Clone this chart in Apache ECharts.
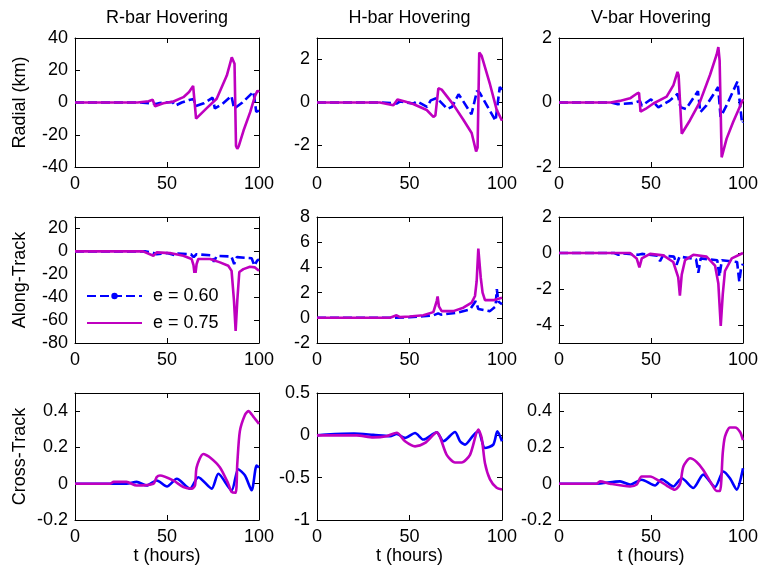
<!DOCTYPE html>
<html>
<head>
<meta charset="utf-8">
<script src="https://cdn.jsdelivr.net/npm/echarts@6/dist/echarts.min.js"></script>
<style>html,body{margin:0;padding:0;background:#fff;}#c{width:762px;height:572px;}</style>
</head>
<body>
<div id="c"></div>
<script>
// ---------- DATA ----------
const colTitles = ['R-bar Hovering', 'H-bar Hovering', 'V-bar Hovering'];
const rowNames = ['Radial (km)', 'Along-Track', 'Cross-Track'];
const xName = 't (hours)';
const seriesNames = ['e = 0.60', 'e = 0.75'];
const xTicks = [0, 50, 100];

// y ranges and tick labels per panel (row-major)
const yMins = [-40, -3, -2, -80, -2, -5, -0.2, -1, -0.2];
const yMaxs = [40, 3, 2, 30, 8, 2, 0.5, 0.5, 0.5];
const ticksRbarRad = [-40, -20, 0, 20, 40];
const ticksHbarRad = [-2, 0, 2];
const ticksVbarRad = [-2, 0, 2];
const ticksRbarAlong = [-80, -60, -40, -20, 0, 20];
const ticksHbarAlong = [-2, 0, 2, 4, 6, 8];
const ticksVbarAlong = [-4, -2, 0, 2];
const ticksRbarCross = [-0.2, 0, 0.2, 0.4];
const ticksHbarCross = [-1, -0.5, 0, 0.5];
const ticksVbarCross = [-0.2, 0, 0.2, 0.4];

// R-bar radial
const tRbarRad60 = [0, 35, 42, 44, 46, 53, 54.5, 58, 62, 64.5, 65.5, 70, 74.8, 76, 80, 85, 86.5, 91, 97, 98.5, 100];
const vRbarRad60 = [0, 0, -0.5, -1, -0.3, 0.3, -2, 0, 1.5, 2.2, -2.3, -0.5, 3, -3.7, -1, 4, -3.8, 0, 6.7, -5.8, -5];
const tRbarRad75 = [0, 34, 40, 42.2, 43.5, 48, 53.5, 58.9, 62, 64.2, 65.8, 71.6, 77, 82.5, 85.2, 86.7, 87.5, 88.2, 89, 91.6, 95.2, 97.9, 99.2, 100];
const vRbarRad75 = [0, 0, 0.8, 1.7, -2.3, -0.5, 0.6, 3.3, 6.5, 10.3, -10, -3.5, 2.3, 16.7, 28, 24, -27, -28.7, -27, -17.4, -6, 4.3, 7.4, 6.4];
// H-bar radial
const tHbarRad60 = [0, 35, 43, 45, 52, 54, 59.5, 61.5, 64.5, 66, 70.5, 73, 76.5, 78, 83.5, 86.5, 88, 96.5, 98.8, 100];
const vHbarRad60 = [0, 0, -0.05, 0.05, -0.05, 0.05, -0.2, 0.1, 0.2, 0.1, -0.3, -0.2, 0.38, 0.2, -0.55, 0.55, 0.45, -0.85, 0.72, 0.6];
const tHbarRad75 = [0, 34, 41.3, 43.5, 48, 52, 59.3, 62.9, 64, 65.6, 67.4, 73.7, 79.1, 83.6, 86, 86.8, 87.7, 89, 93.5, 97.1, 100];
const vHbarRad75 = [0, 0, -0.13, 0.14, 0.03, -0.07, -0.35, -0.67, -0.6, 0.66, 0.6, -0.1, -0.8, -1.42, -2.28, -2.1, 2.33, 2.17, 0.85, -0.33, -0.85];
// V-bar radial
const tVbarRad60 = [0, 28, 32, 40, 44, 45, 50, 54, 60, 64.5, 66, 69, 75.5, 76.8, 80, 86.5, 87.8, 91, 97, 99.5, 100];
const vVbarRad60 = [0, 0, -0.05, -0.02, 0.05, -0.1, 0.1, -0.15, 0.05, 0.27, -0.15, -0.2, 0.35, -0.3, -0.1, 0.48, -0.45, -0.1, 0.65, -0.65, -0.6];
const tVbarRad75 = [0, 28, 33, 38.6, 42.2, 43.5, 44.3, 47, 51.3, 58.5, 62.2, 64.4, 65, 66.7, 71.2, 76.6, 82.1, 85.7, 86.6, 87.3, 88.4, 91.1, 94.7, 97.5, 100];
const vVbarRad75 = [0, 0, 0.05, 0.13, 0.27, 0.3, -0.28, -0.2, -0.03, 0.18, 0.54, 0.95, 0.85, -0.97, -0.55, 0.02, 0.86, 1.49, 1.72, 1.3, -1.7, -1.12, -0.6, -0.23, 0.1];
// R-bar along-track
const tRbarAlong60 = [0, 38, 42, 44.4, 50, 54.5, 56, 63, 64.5, 66, 74, 75.5, 77, 85, 86.5, 88, 96, 97.5, 99, 100];
const vRbarAlong60 = [0, 0, -1, -2.5, -1.5, -3.5, -2, -2.5, -5, -2.5, -3.5, -9, -4, -4.5, -11, -5, -6, -12.5, -8, -7];
const tRbarAlong75 = [0, 37, 42.6, 44.4, 51.6, 58.9, 63.4, 64.4, 65.2, 66.1, 67, 73.4, 78.8, 83.3, 85.1, 86.4, 87.3, 88.2, 89.3, 91.5, 95.1, 97.8, 100];
const vRbarAlong75 = [0, 0, -3.8, -0.9, -1.5, -3.8, -6.7, -12, -23, -11, -6.7, -6.7, -9.6, -12.5, -17, -43, -69.4, -43, -18, -15.5, -13.4, -14, -17];
// H-bar along-track
const tHbarAlong60 = [0, 40, 50, 57.5, 63, 65.5, 67, 75.5, 82.7, 85.8, 87.2, 93.5, 96.5, 97.2, 98, 100];
const vHbarAlong60 = [0, 0, 0.05, 0.13, 0.2, 0.35, 0.25, 0.4, 0.67, 1.33, 0.7, 0.53, 0.9, 2.27, 1.3, 1.07];
const tHbarAlong75 = [0, 39.5, 43, 44.9, 50, 57.5, 62.9, 64.7, 65.2, 65.9, 67.4, 73.7, 79.1, 83.6, 85.4, 86.3, 87.2, 87.7, 88.5, 89.5, 90.8, 95.3, 100];
const vHbarAlong75 = [0, 0, 0.2, 0.05, 0.1, 0.2, 0.45, 1.33, 1.7, 0.9, 0.53, 0.53, 0.8, 1.2, 1.73, 2.9, 5.5, 5.6, 3.2, 2, 1.4, 1.4, 1.6];
// V-bar along-track
const tVbarAlong60 = [0, 30, 32.3, 35, 43, 44, 45, 53.5, 54.9, 56.5, 62.5, 63.9, 65.5, 74.5, 75.7, 77, 86, 87.2, 88.5, 96.8, 98, 99, 100];
const vVbarAlong60 = [0, 0, -0.1, -0.02, -0.1, -0.2, -0.05, -0.15, -0.45, -0.15, -0.2, -0.65, -0.2, -0.35, -1.1, -0.3, -0.4, -1.3, -0.4, -0.5, -1.6, -0.8, -0.6];
const tVbarAlong75 = [0, 38.6, 42.2, 43.7, 45, 49.5, 56.7, 62.1, 64.8, 65.7, 66.7, 68.5, 73, 80.2, 84.8, 86.6, 87.9, 89, 90.2, 93.9, 100];
const vVbarAlong75 = [0, 0, -0.3, -0.8, -0.3, -0.05, -0.13, -0.5, -1.35, -2.37, -1.2, -0.4, -0.1, -0.2, -0.7, -1.7, -4.05, -2.3, -1, -0.3, 0];
// R-bar cross-track
const tRbarCross60 = [0, 20, 28, 33.5, 39, 44.4, 50, 55.3, 62.5, 67, 74.3, 77.9, 85.1, 88.7, 92.4, 96, 98.7, 100];
const vRbarCross60 = [0, 0, 0, 0.01, -0.01, 0.018, -0.015, 0.027, -0.027, 0.036, -0.027, 0.055, -0.036, 0.08, 0.045, -0.036, 0.1, 0.09];
const tRbarCross75 = [0, 19, 21, 28, 33.5, 42.6, 44.4, 46.2, 53.4, 58.9, 63.4, 65.2, 66.1, 69.7, 73.4, 78.8, 83.3, 85.1, 87.3, 88.2, 89.6, 92.4, 94.2, 96.9, 100];
const vRbarCross75 = [0, 0, 0.01, 0.01, -0.01, 0, 0.036, 0.045, 0.018, -0.018, -0.027, -0.01, 0.09, 0.164, 0.145, 0.09, 0, -0.045, -0.05, 0.11, 0.29, 0.38, 0.4, 0.37, 0.33];
// H-bar cross-track
const tHbarCross60 = [0, 5, 20, 30.4, 39.5, 43.1, 47.6, 53, 57.5, 64.7, 68.3, 74.6, 77.3, 80, 84.5, 87.2, 90.8, 95.3, 97.5, 100];
const vHbarCross60 = [0, 0.01, 0.02, 0.005, -0.01, 0.015, -0.03, 0.027, -0.05, 0.035, -0.07, 0.04, -0.07, -0.11, 0.0, 0.05, -0.15, -0.11, 0.047, -0.07];
const tHbarCross75 = [0, 21.4, 30.4, 37.6, 43.1, 47.6, 53, 58.4, 64.7, 70.1, 74.6, 78.2, 82.7, 87.2, 89, 90.8, 93.5, 97.1, 100];
const vHbarCross75 = [0, 0, -0.024, -0.01, 0.03, -0.07, -0.13, -0.09, 0.035, -0.23, -0.32, -0.32, -0.23, 0.067, -0.03, -0.33, -0.52, -0.62, -0.64];
// V-bar cross-track
const tVbarCross60 = [0, 20, 33.2, 38.6, 44.9, 52.2, 55.8, 62.1, 66.7, 73, 78.4, 84.8, 89.3, 92.9, 96.6, 100];
const vVbarCross60 = [0, 0, 0.013, -0.005, 0.022, -0.01, 0.025, -0.015, 0.03, -0.024, 0.05, -0.018, 0.067, 0.03, -0.033, 0.085];
const tVbarCross75 = [0, 20.5, 22.3, 27.7, 38.6, 42.2, 44.9, 49.5, 54.9, 58.5, 63, 65.8, 67.6, 71.2, 74.8, 78.4, 82.9, 85.7, 87.5, 89, 90.2, 92.9, 95.7, 98.4, 100];
const vVbarCross75 = [0, 0, 0.013, 0, -0.015, -0.005, 0.04, 0.04, 0.013, -0.01, -0.033, 0, 0.095, 0.14, 0.12, 0.076, 0, -0.04, -0.04, 0.17, 0.26, 0.31, 0.31, 0.285, 0.24];

// ---------- LAYOUT / STYLE ----------
const FONT = '"Liberation Sans", Arial, Helvetica, sans-serif';
const FS = 18;
const BLUE = '#0000ff';
const MAG = '#bf00bf';
const cols = [{ left: 75, width: 184 }, { left: 317, width: 185 }, { left: 559, width: 184 }];
const rows = [{ top: 38, height: 129 }, { top: 217, height: 126 }, { top: 393, height: 127 }];

const panelTicks = [ticksRbarRad, ticksHbarRad, ticksVbarRad, ticksRbarAlong, ticksHbarAlong, ticksVbarAlong, ticksRbarCross, ticksHbarCross, ticksVbarCross];
const panelData = [
  [[tRbarRad60, vRbarRad60], [tRbarRad75, vRbarRad75]],
  [[tHbarRad60, vHbarRad60], [tHbarRad75, vHbarRad75]],
  [[tVbarRad60, vVbarRad60], [tVbarRad75, vVbarRad75]],
  [[tRbarAlong60, vRbarAlong60], [tRbarAlong75, vRbarAlong75]],
  [[tHbarAlong60, vHbarAlong60], [tHbarAlong75, vHbarAlong75]],
  [[tVbarAlong60, vVbarAlong60], [tVbarAlong75, vVbarAlong75]],
  [[tRbarCross60, vRbarCross60], [tRbarCross75, vRbarCross75]],
  [[tHbarCross60, vHbarCross60], [tHbarCross75, vHbarCross75]],
  [[tVbarCross60, vVbarCross60], [tVbarCross75, vVbarCross75]]
];

const zip = (a, b) => a.map((t, i) => [t, b[i]]);
const axisLine = { show: true, onZero: false, lineStyle: { color: '#000', width: 1 } };
const tickStyle = { show: true, inside: true, length: 5, lineStyle: { color: '#000', width: 1 } };
const labelStyle = { color: '#000', fontFamily: FONT, fontSize: FS };

const grid = [], xAxis = [], yAxis = [], series = [], graphic = [];
for (let r = 0; r < 3; r++) {
  for (let c = 0; c < 3; c++) {
    const i = r * 3 + c;
    grid.push({ left: cols[c].left, width: cols[c].width, top: rows[r].top, height: rows[r].height, containLabel: false });
    const xb = xAxis.length;
    xAxis.push({ type: 'value', gridIndex: i, position: 'bottom', min: 0, max: 100, interval: 50,
      axisLine, axisTick: tickStyle, splitLine: { show: false },
      axisLabel: Object.assign({ margin: 8, customValues: xTicks }, labelStyle) });
    xAxis.push({ type: 'value', gridIndex: i, position: 'top', min: 0, max: 100, interval: 50,
      axisLine, axisTick: tickStyle, splitLine: { show: false }, axisLabel: { show: false } });
    const yb = yAxis.length;
    yAxis.push({ type: 'value', gridIndex: i, position: 'left', min: yMins[i], max: yMaxs[i],
      axisLine, axisTick: Object.assign({ customValues: panelTicks[i] }, tickStyle), splitLine: { show: false },
      axisLabel: Object.assign({ margin: 7, customValues: panelTicks[i] }, labelStyle) });
    yAxis.push({ type: 'value', gridIndex: i, position: 'right', min: yMins[i], max: yMaxs[i],
      axisLine, axisTick: Object.assign({ customValues: panelTicks[i] }, tickStyle), splitLine: { show: false },
      axisLabel: { show: false } });
    const [d60, d75] = panelData[i];
    series.push({ type: 'line', name: seriesNames[0], xAxisIndex: xb, yAxisIndex: yb,
      data: zip(d60[0], d60[1]), symbol: 'circle', showSymbol: false, animation: false,
      smooth: r === 2 ? 0.25 : false,
      itemStyle: { color: BLUE },
      lineStyle: { color: BLUE, width: 2.6, type: r === 2 ? 'solid' : [9, 4] } });
    series.push({ type: 'line', name: seriesNames[1], xAxisIndex: xb, yAxisIndex: yb,
      data: zip(d75[0], d75[1]), symbol: 'none', showSymbol: false, animation: false,
      smooth: r === 2 ? 0.25 : false,
      itemStyle: { color: MAG },
      lineStyle: { color: MAG, width: 2.6, type: 'solid' } });
  }
}
// column titles, x names, row names
for (let c = 0; c < 3; c++) {
  const cx = cols[c].left + cols[c].width / 2;
  graphic.push({ type: 'text', x: cx, y: 18, style: { text: colTitles[c], font: FS + 'px ' + FONT, fill: '#000', textAlign: 'center', textVerticalAlign: 'middle' } });
  graphic.push({ type: 'text', x: cx, y: 556, style: { text: xName, font: FS + 'px ' + FONT, fill: '#000', textAlign: 'center', textVerticalAlign: 'middle' } });
}
for (let r = 0; r < 3; r++) {
  const cy = rows[r].top + rows[r].height / 2;
  graphic.push({ type: 'text', x: 20, y: cy, rotation: Math.PI / 2, style: { text: rowNames[r], font: FS + 'px ' + FONT, fill: '#000', textAlign: 'center', textVerticalAlign: 'middle' } });
}

const chart = echarts.init(document.getElementById('c'), null, { renderer: 'canvas' });
chart.setOption({
  animation: false,
  backgroundColor: '#fff',
  grid, xAxis, yAxis, series, graphic,
  legend: {
    orient: 'vertical', left: 76, top: 273,
    data: [{ name: seriesNames[0] }, { name: seriesNames[1], itemStyle: { opacity: 0 } }],
    itemWidth: 55, itemHeight: 8, itemGap: 9,
    backgroundColor: '#fff', padding: [14, 4, 6, 10],
    selectedMode: false,
    textStyle: { color: '#000', fontFamily: FONT, fontSize: FS, padding: [0, 0, 0, 6] }
  }
});
</script>
</body>
</html>
